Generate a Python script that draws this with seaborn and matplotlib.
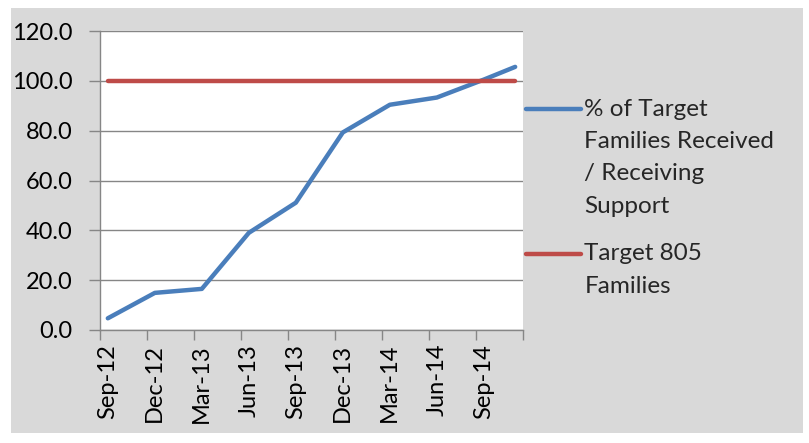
import numpy as np
import pandas as pd
import matplotlib
matplotlib.use("Agg")
import matplotlib.pyplot as plt
import seaborn as sns
from matplotlib.legend_handler import HandlerLine2D
from matplotlib.patches import Rectangle

sns.set_theme(style="white")
plt.rcParams["font.family"] = ["Lato", "DejaVu Sans"]

# data (quarterly reports, last one in Nov-14)
report_months = ["2012-09", "2012-12", "2013-03", "2013-06", "2013-09",
                 "2013-12", "2014-03", "2014-06", "2014-09", "2014-11"]
pct_received = [4.7, 14.9, 16.5, 39.0, 51.1, 79.3, 90.4, 93.3, 100.5, 105.6]
target_months = ["2012-09", "2014-11"]
target_pct = [100.0, 100.0]
x_labels = ["Sep-12", "Dec-12", "Mar-13", "Jun-13", "Sep-13",
            "Dec-13", "Mar-14", "Jun-14", "Sep-14"]
y_ticks = [0, 20, 40, 60, 80, 100, 120]
series_names = ["% of Target\nFamilies Received\n/ Receiving\nSupport",
                "Target 805\nFamilies"]

BLUE = "#4a7ebb"
RED = "#be4b48"
GRID = "#868686"
BG = "#d9d9d9"
FS = 17


def month_pos(months):
    # excel date axis, base unit = month, points sit mid-month
    p = pd.PeriodIndex(months, freq="M")
    return (p.year * 12 + p.month - (2012 * 12 + 9)).to_numpy() + 0.5


df = pd.DataFrame({"month": month_pos(report_months), "pct": pct_received})
tgt = pd.DataFrame({"month": month_pos(target_months), "pct": target_pct})


class TopLine(HandlerLine2D):
    """put the legend line next to the first text line, like excel"""
    def __init__(self, shift, **kw):
        super().__init__(**kw)
        self.shift = shift

    def create_artists(self, legend, orig_handle, xdescent, ydescent,
                       width, height, fontsize, trans):
        arts = super().create_artists(legend, orig_handle, xdescent, ydescent,
                                      width, height, fontsize, trans)
        for a in arts:
            a.set_ydata(np.asarray(a.get_ydata()) + self.shift)
        return arts


fig = plt.figure(figsize=(8.09, 4.43), dpi=100, facecolor="white")
fig.patches.append(Rectangle((11 / 809, 1 - 433 / 443), 792 / 809, 425 / 443,
                             transform=fig.transFigure, facecolor=BG,
                             edgecolor="none", zorder=-10))
ax = fig.add_axes([100 / 809, 1 - 330 / 443, 423 / 809, 299 / 443])
ax.set_facecolor("white")

sns.lineplot(data=df, x="month", y="pct", color=BLUE, lw=3.2, ax=ax,
             label=series_names[0], solid_capstyle="round",
             solid_joinstyle="round")
sns.lineplot(data=tgt, x="month", y="pct", color=RED, lw=3.2, ax=ax,
             label=series_names[1], solid_capstyle="round")

ax.set_xlim(0, 27)
ax.set_ylim(0, 120)
ax.set_xticks(np.arange(0, 28, 3))
ax.set_xticklabels([])
ax.set_xticks(np.arange(len(x_labels)) * 3 + 0.5, minor=True)
ax.set_xticklabels(x_labels, minor=True, rotation=90, va="top", ha="center")
ax.set_yticks(y_ticks)
ax.set_yticklabels([f"{v:.1f}" for v in y_ticks])
ax.set_xlabel("")
ax.set_ylabel("")

ax.tick_params(axis="x", which="major", direction="out", length=7, width=1,
               color=GRID, bottom=True)
ax.tick_params(axis="x", which="minor", length=0, pad=10, labelsize=FS,
               labelcolor="black", bottom=True)
ax.tick_params(axis="y", direction="out", length=8, width=1, color=GRID,
               pad=12, labelsize=FS, labelcolor="black", left=True)

ax.yaxis.grid(True, color=GRID, lw=1)
ax.set_axisbelow(True)
for s in ["top", "right"]:
    ax.spines[s].set_visible(False)
for s in ["left", "bottom"]:
    ax.spines[s].set_color(GRID)
    ax.spines[s].set_linewidth(1)

handles, labels = ax.get_legend_handles_labels()
step = 23.4  # points between text lines
leg = ax.legend(handles, labels, loc="upper left",
                bbox_to_anchor=(526 / 809, 1 - 99 / 443),
                bbox_transform=fig.transFigure, frameon=False, fontsize=17.5,
                handlelength=2.25, handletextpad=0.15, borderpad=0,
                borderaxespad=0, labelspacing=1.1,
                handler_map={handles[0]: TopLine(1.5 * step),
                             handles[1]: TopLine(0.5 * step)})
for t in leg.get_texts():
    t.set_linespacing(1.66)

fig.savefig("out.png", dpi=100, facecolor="white")
